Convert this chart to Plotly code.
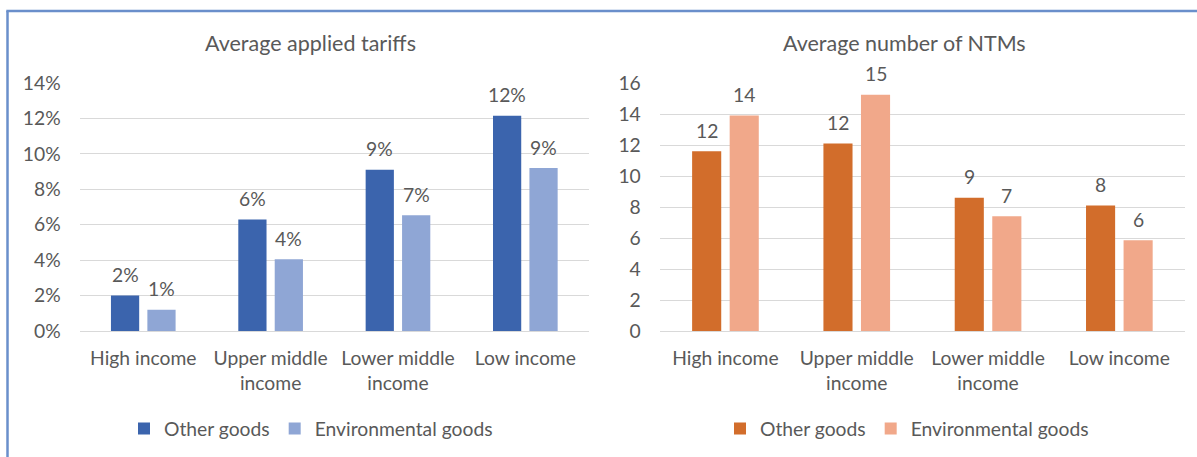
import plotly.graph_objects as go

# ---------------- data ----------------
categories = ["High income", "Upper middle income", "Lower middle income", "Low income"]
tick_labels = ["High income", "Upper middle<br>income", "Lower middle<br>income", "Low income"]
series_names = ["Other goods", "Environmental goods"]

tariff_other = [0.020, 0.063, 0.091, 0.1215]
tariff_env = [0.012, 0.0405, 0.0653, 0.092]

ntm_other = [11.6, 12.1, 8.6, 8.1]
ntm_env = [13.9, 15.25, 7.4, 5.85]

left_title = "Average applied tariffs"
right_title = "Average number of NTMs"

# ---------------- style ----------------
W, H = 1197, 457
FONT = "Lato"
TXT = "#595959"
GRID = "#d9d9d9"
C_LEFT = ["#3B64AD", "#8FA6D5"]
C_RIGHT = ["#D26D2B", "#F1A88A"]
TICK_SIZE = 19.3
TITLE_SIZE = 21.5
BARGAP = 0.428
BARGROUPGAP = 0.225

# pixel layout
L_X = (79.6, 589.0)
R_X = (659.8, 1185.0)
Y_TOP, Y_BOT = 83.0, 331.0


def px_x(x):
    return x / W


def px_y(y):
    return 1 - y / H


fig = go.Figure()

for name, vals, col in zip(series_names, [tariff_other, tariff_env], C_LEFT):
    fig.add_trace(go.Bar(x=categories, y=vals, name=name, marker=dict(color=col, line=dict(width=0)),
                         xaxis="x", yaxis="y", legend="legend", hoverinfo="skip"))
for name, vals, col in zip(series_names, [ntm_other, ntm_env], C_RIGHT):
    fig.add_trace(go.Bar(x=categories, y=vals, name=name, marker=dict(color=col, line=dict(width=0)),
                         xaxis="x2", yaxis="y2", legend="legend2", hoverinfo="skip"))

# data labels
annotations = []


def add_labels(xref, yref, vals_list, fmt, dom_px):
    cat_w = (dom_px[1] - dom_px[0]) / len(categories)
    slot = (1 - BARGAP) * cat_w / 2
    shifts = [-slot / 2, slot / 2]
    for vals, sh in zip(vals_list, shifts):
        for c, v in zip(categories, vals):
            annotations.append(dict(x=c, y=v, xref=xref, yref=yref, text=fmt(v), showarrow=False,
                                    xshift=sh, yshift=21, yanchor="middle", xanchor="center",
                                    font=dict(family=FONT, size=TICK_SIZE, color=TXT)))


add_labels("x", "y", [tariff_other, tariff_env], lambda v: f"{round(v*100):d}%", L_X)
add_labels("x2", "y2", [ntm_other, ntm_env], lambda v: f"{round(v):d}", R_X)

annotations.append(dict(x=px_x(310.5), y=px_y(43), xref="paper", yref="paper", text=left_title,
                        showarrow=False, xanchor="center", yanchor="middle",
                        font=dict(family=FONT, size=TITLE_SIZE, color=TXT)))
annotations.append(dict(x=px_x(904), y=px_y(43), xref="paper", yref="paper", text=right_title,
                        showarrow=False, xanchor="center", yanchor="middle",
                        font=dict(family=FONT, size=TITLE_SIZE, color=TXT)))

axis_common = dict(showline=False, ticks="", tickfont=dict(family=FONT, size=TICK_SIZE, color=TXT),
                   automargin=False, fixedrange=True)

fig.update_layout(
    width=W, height=H,
    margin=dict(l=0, r=0, t=0, b=0),
    paper_bgcolor="white", plot_bgcolor="white",
    barmode="group", bargap=BARGAP, bargroupgap=BARGROUPGAP,
    font=dict(family=FONT, color=TXT),
    xaxis=dict(domain=[px_x(L_X[0]), px_x(L_X[1])], anchor="y", tickvals=categories, ticktext=tick_labels,
               ticklabelstandoff=14, showgrid=False, **axis_common),
    yaxis=dict(domain=[px_y(Y_BOT), px_y(Y_TOP)], anchor="x", range=[0, 0.14], dtick=0.02, tickformat=".0%",
               showgrid=True, gridcolor=GRID, gridwidth=1.3, zeroline=True, zerolinecolor=GRID,
               zerolinewidth=1.3, ticklabelstandoff=18, **axis_common),
    xaxis2=dict(domain=[px_x(R_X[0]), px_x(R_X[1])], anchor="y2", tickvals=categories, ticktext=tick_labels,
                ticklabelstandoff=14, showgrid=False, **axis_common),
    yaxis2=dict(domain=[px_y(Y_BOT), px_y(Y_TOP)], anchor="x2", range=[0, 16], dtick=2,
                showgrid=True, gridcolor=GRID, gridwidth=1.3, zeroline=True, zerolinecolor=GRID,
                zerolinewidth=1.3, ticklabelstandoff=18, **axis_common),
    legend=dict(orientation="h", x=px_x(311), y=px_y(429), xanchor="center", yanchor="middle",
                font=dict(family=FONT, size=TICK_SIZE, color=TXT), bgcolor="rgba(0,0,0,0)"),
    legend2=dict(orientation="h", x=px_x(907), y=px_y(429), xanchor="center", yanchor="middle",
                 font=dict(family=FONT, size=TICK_SIZE, color=TXT), bgcolor="rgba(0,0,0,0)"),
    annotations=annotations,
    shapes=[
        dict(type="line", xref="paper", yref="paper", x0=px_x(7.5), x1=px_x(7.5), y0=0, y1=px_y(11),
             line=dict(color="#6A8FCB", width=2.5)),
        dict(type="line", xref="paper", yref="paper", x0=px_x(6.3), x1=1.0, y0=px_y(11), y1=px_y(11),
             line=dict(color="#6A8FCB", width=2.5)),
    ],
    showlegend=True,
)

fig.write_html("out.html", config=dict(displayModeBar=False),
               post_script="document.body.style.margin='0';document.body.style.overflow='hidden';")
